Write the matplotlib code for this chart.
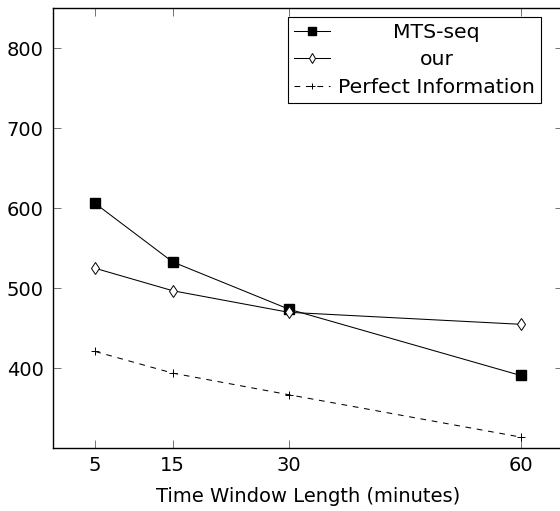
import matplotlib
matplotlib.use("Agg")
import matplotlib.pyplot as plt

plt.rcParams['font.family'] = ['DejaVu Sans']

# Data
windows = [5, 15, 30, 60]
mts_seq = [606, 533, 474, 391]
ours = [525, 497, 470, 455]
perfect = [421, 394, 367, 314]
labels = ["MTS-seq", "our", "Perfect Information"]
xticks = [5, 15, 30, 60]
yticks = [400, 500, 600, 700, 800]
xlabel = "Time Window Length (minutes)"

FS = 14
fig = plt.figure(figsize=(5.6, 5.11), dpi=100)
ax = fig.add_axes([52.7/560, (511-448.3)/511, (563.3-52.7)/560, 440/511])

ax.plot(windows, mts_seq, color='black', lw=0.75, marker='s', ms=7.5,
        mfc='black', mec='black', label=labels[0])
ax.plot(windows, ours, color='black', lw=0.75, marker='d', ms=6.5,
        mfc='white', mec='black', mew=0.7, label=labels[1])
ax.plot(windows, perfect, color='black', lw=0.75, ls=(0, (5.5, 5.5)), marker='+',
        ms=6, mew=0.7, label=labels[2])

ax.set_xlim(-0.5, 65.5)
ax.set_ylim(300, 850)
ax.set_xticks(xticks)
ax.set_xticklabels([str(v) for v in xticks])
ax.set_yticks(yticks)
ax.set_yticklabels([str(v) for v in yticks])
ax.tick_params(direction='in', length=6, width=0.7, color='0.45',
               top=True, right=True, labelsize=FS, pad=6.5)
ax.tick_params(axis='x', pad=5.5)
for s in ax.spines.values():
    s.set_linewidth(1.0)
    s.set_color('black')
ax.set_xlabel(xlabel, fontsize=FS, labelpad=9)

leg = ax.legend(loc='upper right', bbox_to_anchor=(0.9563, 0.9809),
                borderaxespad=0, fontsize=14.7, fancybox=False, framealpha=1,
                edgecolor='black', handlelength=1.75, handletextpad=0.4,
                labelspacing=0.42, borderpad=0.3, markerscale=0.75)
leg.get_frame().set_linewidth(0.8)

fig.canvas.draw()
r = fig.canvas.get_renderer()
texts = leg.get_texts()
widths = [t.get_window_extent(r).width for t in texts]
wmax = max(widths)
for t, w in zip(texts, widths):
    t.set_position(((wmax - w) / 2, 0))

fig.savefig("out.png", dpi=100)
